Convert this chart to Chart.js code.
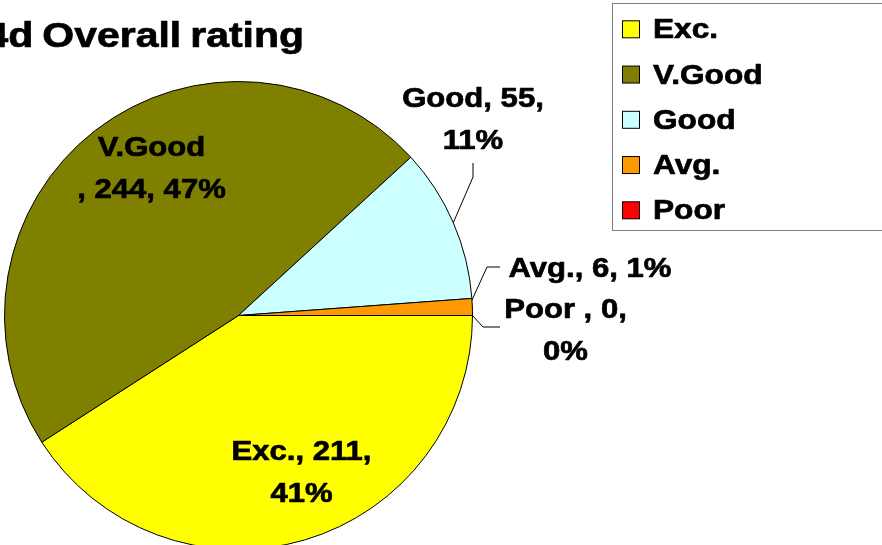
<!DOCTYPE html>
<html>
<head>
<meta charset="utf-8">
<script src="https://cdn.jsdelivr.net/npm/chart.js@4/dist/chart.umd.min.js"></script>
<style>
  html, body { margin: 0; padding: 0; background: #ffffff; overflow: hidden; width: 882px; height: 545px; }
  #wrap { position: absolute; left: 0; top: 0; width: 882px; height: 560px; }
</style>
</head>
<body>
<div id="wrap"><canvas id="c" width="882" height="560"></canvas></div>
<script>
// ---- data ----
const chartTitle = '4d Overall rating';
const categories = ['Exc.', 'V.Good', 'Good', 'Avg.', 'Poor'];
const counts = [211, 244, 55, 6, 0];
const percents = [41, 47, 11, 1, 0];
const sliceColors = ['#FFFF00', '#808000', '#CCFFFF', '#FF9900', '#FF0000'];
const labelLines = [
  ['Exc., 211,', '41%'],
  ['V.Good', ', 244, 47%'],
  ['Good, 55,', '11%'],
  ['Avg., 6, 1%'],
  ['Poor , 0,', '0%']
];

// ---- layout (positions / styles only) ----
const FONT = "'Liberation Sans', Arial, sans-serif";
const labelPos = [
  { x: 301.5, y: 460 },
  { x: 151.5, y: 156 },
  { x: 473, y: 107 },
  { x: 590, y: 277 },
  { x: 565.5, y: 318 }
];
const lineGap = 41.5;
const leaders = {
  2: { frac: 0.5, pts: [[473, 177], [473, 163]] },
  3: { frac: 0.1, pts: [[487, 267], [500, 267]] },
  4: { frac: 0.5, pts: [[483, 327], [500, 327]] }
};

function drawText(ctx, text, x, y, align, sx, ws) {
  ctx.save();
  ctx.translate(x, y);
  ctx.scale(sx, 1);
  ctx.textAlign = align;
  ctx.textBaseline = 'alphabetic';
  if (ws !== undefined && 'wordSpacing' in ctx) ctx.wordSpacing = ws;
  ctx.lineWidth = 0.7;
  ctx.strokeStyle = '#000';
  ctx.lineJoin = 'round';
  ctx.fillText(text, 0, 0);
  ctx.strokeText(text, 0, 0);
  ctx.restore();
}

const decor = {
  id: 'decor',
  afterDraw(chart) {
    const ctx = chart.ctx;
    const meta = chart.getDatasetMeta(0);
    ctx.save();
    ctx.fillStyle = '#000';

    // title
    ctx.font = 'bold 35px ' + FONT;
    drawText(ctx, chartTitle, 304, 47, 'right', 1.17, '-2px');

    // leader lines
    ctx.strokeStyle = '#000';
    ctx.lineWidth = 1;
    Object.keys(leaders).forEach(k => {
      const L = leaders[k];
      const arc = meta.data[k];
      const p = arc.getProps(['x', 'y', 'startAngle', 'endAngle', 'outerRadius'], true);
      const a = p.startAngle + (p.endAngle - p.startAngle) * L.frac;
      ctx.beginPath();
      ctx.moveTo(p.x + p.outerRadius * Math.cos(a), p.y + p.outerRadius * Math.sin(a));
      L.pts.forEach(q => ctx.lineTo(q[0], q[1]));
      ctx.stroke();
    });

    // data labels
    ctx.font = 'bold 28px ' + FONT;
    labelLines.forEach((lines, i) => {
      lines.forEach((t, j) => {
        drawText(ctx, t, labelPos[i].x, labelPos[i].y + j * lineGap, 'center', 1.11);
      });
    });

    // legend
    ctx.fillStyle = '#fff';
    ctx.fillRect(612.5, 3.5, 300, 227);
    ctx.strokeStyle = '#808080';
    ctx.lineWidth = 1;
    ctx.strokeRect(612.5, 3.5, 300, 227);
    categories.forEach((c, i) => {
      const by = 38.3 + i * 45.25;
      ctx.fillStyle = sliceColors[i];
      ctx.fillRect(622.5, by - 17.5, 17, 17);
      ctx.strokeStyle = '#000';
      ctx.lineWidth = 1;
      ctx.strokeRect(622.5, by - 17.5, 17, 17);
      ctx.fillStyle = '#000';
      ctx.font = 'bold 28px ' + FONT;
      drawText(ctx, c, 653, by, 'left', 1.13);
    });
    ctx.restore();
  }
};

new Chart(document.getElementById('c'), {
  type: 'pie',
  data: {
    labels: categories,
    datasets: [{
      data: counts,
      backgroundColor: sliceColors,
      borderColor: '#000000',
      borderWidth: 1
    }]
  },
  options: {
    responsive: false,
    animation: false,
    devicePixelRatio: 1,
    rotation: 90,
    layout: { padding: { left: 4, top: 81, right: 409, bottom: 10 } },
    plugins: {
      legend: { display: false },
      tooltip: { enabled: false },
      title: { display: false }
    }
  },
  plugins: [decor]
});
</script>
</body>
</html>
